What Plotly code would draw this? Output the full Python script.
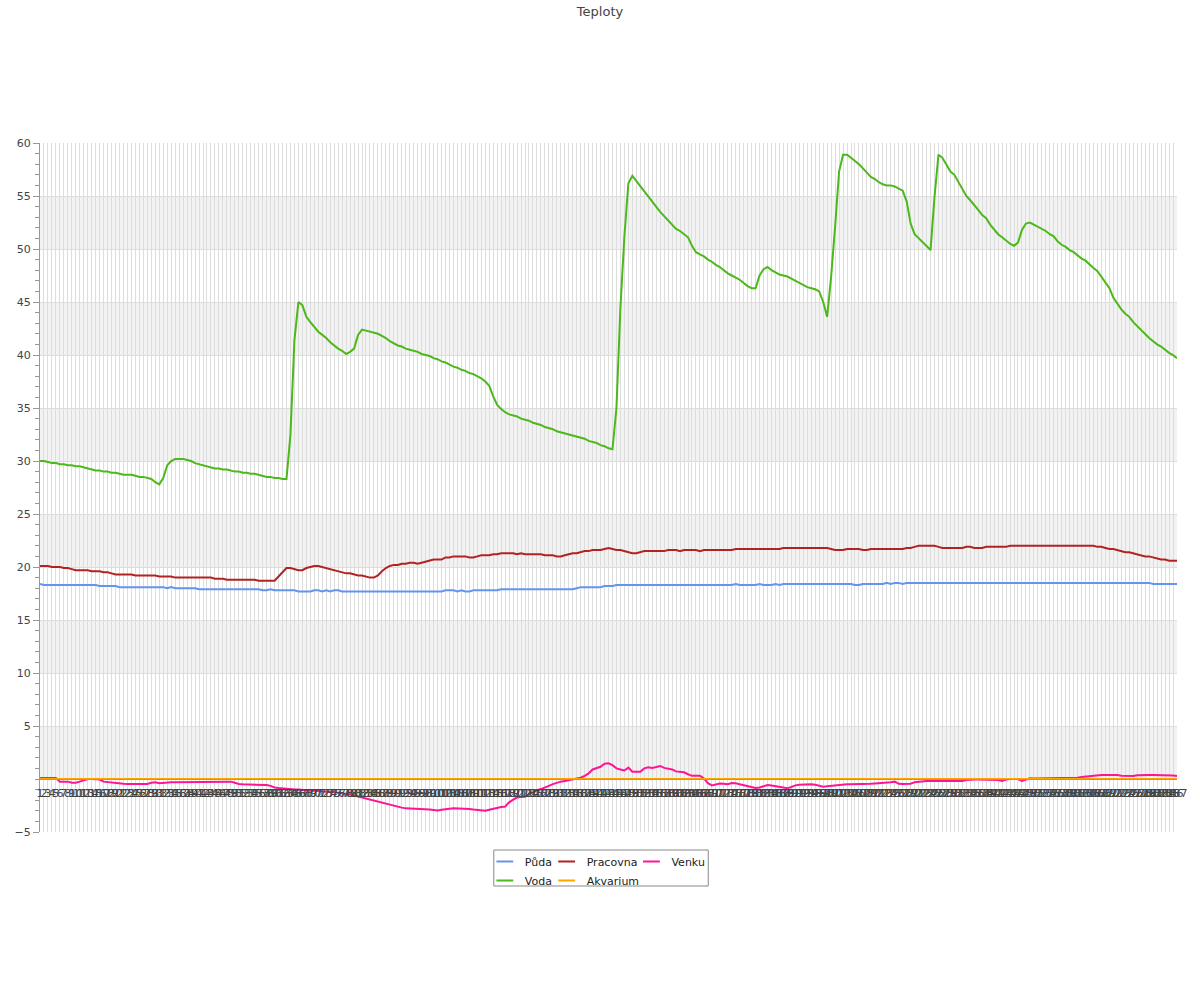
import plotly.graph_objects as go

# ---------------- data ----------------
categories = [str(i) for i in range(1, 288)]

puda = (
    [18.4, 18.3, 18.3, 18.3, 18.3, 18.3, 18.3, 18.3, 18.3, 18.3]
    + [18.3, 18.3, 18.3, 18.3, 18.3, 18.2, 18.2, 18.2, 18.2, 18.2]
    + [18.1, 18.1, 18.1, 18.1, 18.1, 18.1, 18.1, 18.1, 18.1, 18.1]
    + [18.1, 18.1, 18.0, 18.1, 18.0, 18.0, 18.0, 18.0, 18.0, 18.0]
    + [17.9, 17.9, 17.9, 17.9, 17.9, 17.9, 17.9, 17.9, 17.9, 17.9]
    + [17.9, 17.9, 17.9, 17.9, 17.9, 17.9, 17.8, 17.8, 17.9, 17.8]
    + [17.8, 17.8, 17.8, 17.8, 17.8, 17.7, 17.7, 17.7, 17.7, 17.8]
    + [17.8, 17.7, 17.8, 17.7, 17.8, 17.8, 17.7, 17.7, 17.7, 17.7]
    + [17.7, 17.7, 17.7, 17.7, 17.7, 17.7, 17.7, 17.7, 17.7, 17.7]
    + [17.7, 17.7, 17.7, 17.7, 17.7, 17.7, 17.7, 17.7, 17.7, 17.7]
    + [17.7, 17.7, 17.8, 17.8, 17.8, 17.7, 17.8, 17.7, 17.7, 17.8]
    + [17.8, 17.8, 17.8, 17.8, 17.8, 17.8, 17.9, 17.9, 17.9, 17.9]
    + [17.9, 17.9, 17.9, 17.9, 17.9, 17.9, 17.9, 17.9, 17.9, 17.9]
    + [17.9, 17.9, 17.9, 17.9, 17.9, 18.0, 18.1, 18.1, 18.1, 18.1]
    + [18.1, 18.1, 18.2, 18.2, 18.2, 18.3, 18.3, 18.3, 18.3, 18.3]
    + [18.3, 18.3, 18.3, 18.3, 18.3, 18.3, 18.3, 18.3, 18.3, 18.3]
    + [18.3, 18.3, 18.3, 18.3, 18.3, 18.3, 18.3, 18.3, 18.3, 18.3]
    + [18.3, 18.3, 18.3, 18.3, 18.3, 18.4, 18.3, 18.3, 18.3, 18.3]
    + [18.3, 18.4, 18.3, 18.3, 18.3, 18.4, 18.3, 18.4, 18.4, 18.4]
    + [18.4, 18.4, 18.4, 18.4, 18.4, 18.4, 18.4, 18.4, 18.4, 18.4]
    + [18.4, 18.4, 18.4, 18.4, 18.4, 18.3, 18.3, 18.4, 18.4, 18.4]
    + [18.4, 18.4, 18.4, 18.5, 18.4, 18.5, 18.5, 18.4, 18.5, 18.5]
    + [18.5, 18.5, 18.5, 18.5, 18.5, 18.5, 18.5, 18.5, 18.5, 18.5]
    + [18.5, 18.5, 18.5, 18.5, 18.5, 18.5, 18.5, 18.5, 18.5, 18.5]
    + [18.5, 18.5, 18.5, 18.5, 18.5, 18.5, 18.5, 18.5, 18.5, 18.5]
    + [18.5, 18.5, 18.5, 18.5, 18.5, 18.5, 18.5, 18.5, 18.5, 18.5]
    + [18.5, 18.5, 18.5, 18.5, 18.5, 18.5, 18.5, 18.5, 18.5, 18.5]
    + [18.5, 18.5, 18.5, 18.5, 18.5, 18.5, 18.5, 18.5, 18.5, 18.5]
    + [18.4, 18.4, 18.4, 18.4, 18.4, 18.4, 18.4]
)

voda = (
    [30.0, 30.0, 29.9, 29.8, 29.8, 29.7, 29.7, 29.6, 29.6, 29.5]
    + [29.5, 29.4, 29.3, 29.2, 29.1, 29.1, 29.0, 29.0, 28.9, 28.9]
    + [28.8, 28.7, 28.7, 28.7, 28.6, 28.5, 28.5, 28.4, 28.3, 28.0]
    + [27.8, 28.4, 29.6, 30.0, 30.2, 30.2, 30.2, 30.1, 30.0, 29.8]
    + [29.7, 29.6, 29.5, 29.4, 29.3, 29.3, 29.2, 29.2, 29.1, 29.0]
    + [29.0, 28.9, 28.9, 28.8, 28.8, 28.7, 28.6, 28.5, 28.5, 28.4]
    + [28.4, 28.3, 28.3, 32.5, 41.4, 45.0, 44.7, 43.6, 43.1, 42.6]
    + [42.2, 41.9, 41.6, 41.2, 40.9, 40.6, 40.4, 40.1, 40.3, 40.6]
    + [41.9, 42.4, 42.3, 42.2, 42.1, 42.0, 41.8, 41.6, 41.3, 41.1]
    + [40.9, 40.8, 40.6, 40.5, 40.4, 40.3, 40.1, 40.0, 39.9, 39.7]
    + [39.6, 39.4, 39.3, 39.1, 38.9, 38.8, 38.6, 38.5, 38.3, 38.2]
    + [38.0, 37.8, 37.5, 37.1, 36.1, 35.3, 34.9, 34.6, 34.4, 34.3]
    + [34.2, 34.0, 33.9, 33.8, 33.6, 33.5, 33.4, 33.2, 33.1, 33.0]
    + [32.8, 32.7, 32.6, 32.5, 32.4, 32.3, 32.2, 32.1, 31.9, 31.8]
    + [31.7, 31.5, 31.4, 31.2, 31.1, 35.0, 44.5, 51.2, 56.2, 56.9]
    + [56.4, 55.9, 55.4, 54.9, 54.4, 54.0, 53.5, 53.1, 52.7, 52.4]
    + [51.9, 51.7, 51.4, 51.1, 50.3, 49.7, 49.5, 49.3, 49.0, 48.8]
    + [48.5, 48.3, 48.0, 47.7, 47.5, 47.3, 47.1, 46.8, 46.5, 46.3]
    + [46.3, 47.5, 48.1, 48.3, 48.0, 47.8, 47.6, 47.5, 47.4, 47.2]
    + [47.0, 46.8, 46.6, 46.4, 46.3, 46.2, 46.0, 45.0, 43.6, 47.4]
    + [52.1, 57.3, 58.9, 58.9, 58.6, 58.3, 58.0, 57.6, 57.2, 56.8]
    + [56.6, 56.3, 56.1, 56.0, 56.0, 55.9, 55.7, 55.5, 54.5, 52.4]
    + [51.4, 51.0, 50.6, 50.2, 49.9, 54.9, 58.9, 58.6, 58.0, 57.3]
    + [57.0, 56.3, 55.6, 55.0, 54.6, 54.2, 53.7, 53.2, 52.9, 52.3]
    + [51.8, 51.4, 51.1, 50.8, 50.5, 50.3, 50.6, 51.8, 52.4, 52.5]
    + [52.3, 52.1, 51.9, 51.7, 51.4, 51.2, 50.7, 50.4, 50.2, 49.9]
    + [49.7, 49.4, 49.1, 48.9, 48.5, 48.2, 47.9, 47.4, 46.9, 46.3]
    + [45.4, 44.8, 44.3, 43.9, 43.6, 43.1, 42.7, 42.3, 41.9, 41.6]
    + [41.3, 41.0, 40.8, 40.5, 40.2, 40.0, 39.7]
)

pracovna = (
    [20.1, 20.1, 20.1, 20.0, 20.0, 20.0, 19.9, 19.9, 19.8, 19.7]
    + [19.7, 19.7, 19.7, 19.6, 19.6, 19.6, 19.5, 19.5, 19.4, 19.3]
    + [19.3, 19.3, 19.3, 19.3, 19.2, 19.2, 19.2, 19.2, 19.2, 19.2]
    + [19.1, 19.1, 19.1, 19.1, 19.0, 19.0, 19.0, 19.0, 19.0, 19.0]
    + [19.0, 19.0, 19.0, 19.0, 18.9, 18.9, 18.9, 18.8, 18.8, 18.8]
    + [18.8, 18.8, 18.8, 18.8, 18.8, 18.7, 18.7, 18.7, 18.7, 18.7]
    + [19.1, 19.5, 19.9, 19.9, 19.8, 19.7, 19.7, 19.9, 20.0, 20.1]
    + [20.1, 20.0, 19.9, 19.8, 19.7, 19.6, 19.5, 19.4, 19.4, 19.3]
    + [19.2, 19.2, 19.1, 19.0, 19.0, 19.2, 19.6, 19.9, 20.1, 20.2]
    + [20.2, 20.3, 20.3, 20.4, 20.4, 20.3, 20.4, 20.5, 20.6, 20.7]
    + [20.7, 20.7, 20.9, 20.9, 21.0, 21.0, 21.0, 21.0, 20.9, 20.9]
    + [21.0, 21.1, 21.1, 21.1, 21.2, 21.2, 21.3, 21.3, 21.3, 21.3]
    + [21.2, 21.3, 21.2, 21.2, 21.2, 21.2, 21.2, 21.1, 21.1, 21.1]
    + [21.0, 21.0, 21.1, 21.2, 21.3, 21.3, 21.4, 21.5, 21.5, 21.6]
    + [21.6, 21.6, 21.7, 21.8, 21.7, 21.6, 21.6, 21.5, 21.4, 21.3]
    + [21.3, 21.4, 21.5, 21.5, 21.5, 21.5, 21.5, 21.5, 21.6, 21.6]
    + [21.6, 21.5, 21.6, 21.6, 21.6, 21.6, 21.5, 21.6, 21.6, 21.6]
    + [21.6, 21.6, 21.6, 21.6, 21.6, 21.7, 21.7, 21.7, 21.7, 21.7]
    + [21.7, 21.7, 21.7, 21.7, 21.7, 21.7, 21.7, 21.8, 21.8, 21.8]
    + [21.8, 21.8, 21.8, 21.8, 21.8, 21.8, 21.8, 21.8, 21.8, 21.7]
    + [21.6, 21.6, 21.6, 21.7, 21.7, 21.7, 21.7, 21.6, 21.6, 21.7]
    + [21.7, 21.7, 21.7, 21.7, 21.7, 21.7, 21.7, 21.7, 21.8, 21.8]
    + [21.9, 22.0, 22.0, 22.0, 22.0, 22.0, 21.9, 21.8, 21.8, 21.8]
    + [21.8, 21.8, 21.8, 21.9, 21.9, 21.8, 21.8, 21.8, 21.9, 21.9]
    + [21.9, 21.9, 21.9, 21.9, 22.0, 22.0, 22.0, 22.0, 22.0, 22.0]
    + [22.0, 22.0, 22.0, 22.0, 22.0, 22.0, 22.0, 22.0, 22.0, 22.0]
    + [22.0, 22.0, 22.0, 22.0, 22.0, 22.0, 21.9, 21.9, 21.8, 21.7]
    + [21.7, 21.6, 21.5, 21.4, 21.4, 21.3, 21.2, 21.1, 21.0, 21.0]
    + [20.9, 20.8, 20.7, 20.7, 20.6, 20.6, 20.6]
)

akvarium = [0.0] * 287

venku = (
    [0.1, 0.1, 0.15, 0.15, 0.1, -0.25, -0.25, -0.25, -0.35, -0.35]
    + [-0.25, -0.1, 0.0, 0.0, 0.0, -0.05, -0.25, -0.3, -0.3, -0.35]
    + [-0.4, -0.45, -0.47, -0.47, -0.47, -0.47, -0.47, -0.47, -0.35, -0.3]
    + [-0.4, -0.35, -0.3, -0.3, -0.3, -0.3, -0.3, -0.3, -0.3, -0.3]
    + [-0.28, -0.28, -0.27, -0.27, -0.26, -0.26, -0.25, -0.25, -0.25, -0.35]
    + [-0.47, -0.5, -0.5, -0.55, -0.57, -0.57, -0.57, -0.57, -0.65, -0.8]
    + [-0.85, -0.9, -0.94, -0.95, -1.0, -1.0, -1.05, -1.05, -1.1, -1.1]
    + [-1.15, -1.15, -1.2, -1.2, -1.25, -1.3, -1.3, -1.35, -1.45, -1.55]
    + [-1.65, -1.75, -1.85, -1.95, -2.05, -2.15, -2.25, -2.35, -2.45, -2.55]
    + [-2.65, -2.7, -2.77, -2.78, -2.8, -2.82, -2.83, -2.85, -2.88, -2.92]
    + [-2.96, -2.9, -2.83, -2.8, -2.77, -2.77, -2.77, -2.77, -2.82, -2.88]
    + [-2.92, -2.97, -3.0, -2.9, -2.8, -2.72, -2.65, -2.6, -2.2, -1.95]
    + [-1.75, -1.7, -1.67, -1.45, -1.25, -1.05, -0.95, -0.82, -0.65, -0.48]
    + [-0.35, -0.25, -0.18, -0.1, -0.05, 0.05, 0.12, 0.3, 0.53, 0.9]
    + [1.0, 1.15, 1.45, 1.48, 1.3, 1.0, 0.9, 0.8, 1.07, 0.69]
    + [0.69, 0.69, 1.0, 1.1, 1.05, 1.15, 1.23, 1.05, 0.95, 0.9]
    + [0.72, 0.68, 0.63, 0.45, 0.3, 0.3, 0.31, 0.05, -0.4, -0.6]
    + [-0.5, -0.42, -0.45, -0.5, -0.38, -0.4, -0.5, -0.57, -0.65, -0.75]
    + [-0.85, -0.8, -0.65, -0.57, -0.62, -0.7, -0.75, -0.82, -0.88, -0.75]
    + [-0.6, -0.55, -0.52, -0.5, -0.5, -0.55, -0.65, -0.72, -0.68, -0.63]
    + [-0.6, -0.55, -0.52, -0.5, -0.5, -0.5, -0.5, -0.5, -0.48, -0.45]
    + [-0.42, -0.4, -0.37, -0.33, -0.3, -0.25, -0.45, -0.47, -0.46, -0.45]
    + [-0.3, -0.25, -0.22, -0.2, -0.19, -0.19, -0.19, -0.19, -0.19, -0.19]
    + [-0.19, -0.19, -0.19, -0.1, -0.05, -0.05, -0.05, -0.05, -0.05, -0.05]
    + [-0.05, -0.1, -0.19, -0.05, 0.0, 0.0, 0.0, -0.19, -0.05, 0.07]
    + [0.05, 0.05, 0.05, 0.05, 0.1, 0.05, 0.07, 0.07, 0.07, 0.07]
    + [0.07, 0.12, 0.2, 0.25, 0.3, 0.35, 0.38, 0.38, 0.38, 0.38]
    + [0.38, 0.38, 0.3, 0.28, 0.28, 0.28, 0.35, 0.38, 0.38, 0.38]
    + [0.38, 0.38, 0.38, 0.38, 0.38, 0.33, 0.28]
)

y_tick_values = [-5, 5, 10, 15, 20, 25, 30, 35, 40, 45, 50, 55, 60]
band_starts = [0, 10, 20, 30, 40, 50]

series_names = ["Půda", "Voda", "Pracovna", "Akvarium", "Venku"]
series_colors = {"Půda": "#6495ED", "Voda": "#4CB81A", "Pracovna": "#B22222",
                 "Akvarium": "#FFA500", "Venku": "#FF1493"}
series_legend = {"Půda": "legend", "Voda": "legend", "Pracovna": "legend2",
                 "Akvarium": "legend2", "Venku": "legend3"}

# ---------------- figure ----------------
FONT = "DejaVu Sans"
fig = go.Figure()

def line_trace(name, values, **kw):
    return go.Scatter(x=categories, y=values, name=name, mode="lines",
                      line=dict(color=series_colors[name], width=2),
                      showlegend=False, hoverinfo="x+y+name", **kw)

fig.add_trace(line_trace("Půda", puda))
fig.add_trace(line_trace("Voda", voda))
fig.add_trace(line_trace("Pracovna", pracovna))
fig.add_trace(line_trace("Venku", venku))
fig.add_trace(line_trace("Akvarium", akvarium, xaxis="x2", yaxis="y"))

# legend entries (short line symbols, like the original)
for name in series_names:
    fig.add_trace(go.Scatter(
        x=[None], y=[None], name=name, mode="markers",
        marker=dict(symbol="line-ew", size=12, color=series_colors[name],
                    line=dict(color=series_colors[name], width=2)),
        legend=series_legend[name], showlegend=True, hoverinfo="skip"))

L, T = 40, 143
W, H = 1140, 689
def px(x):
    return (x - L) / W
def py(y):
    return (T + H - y) / H

shapes = [
    dict(type="rect", xref="paper", yref="y", x0=0, x1=1, y0=b, y1=b + 5,
         fillcolor="#F2F2F2", line=dict(width=0), layer="below")
    for b in band_starts
]
shapes.append(dict(type="rect", xref="paper", yref="paper",
                   x0=px(495), x1=px(710), y0=py(886), y1=py(850),
                   line=dict(color="#888888", width=1), fillcolor="rgba(0,0,0,0)"))

leg_common = dict(orientation="v", yanchor="top", xanchor="left",
                  bgcolor="rgba(0,0,0,0)", borderwidth=0,
                  font=dict(family=FONT, size=11, color="#222"),
                  tracegroupgap=0)

fig.update_layout(
    width=1200, height=1000,
    margin=dict(l=L, r=1200 - L - W, t=T, b=1000 - T - H, pad=0),
    paper_bgcolor="white", plot_bgcolor="white",
    font=dict(family=FONT, size=11, color="#444"),
    title=dict(text="Teploty", x=0.5, xref="container", xanchor="center",
               y=1 - 11 / 1000, yref="container", yanchor="middle",
               font=dict(family=FONT, size=13, color="#444")),
    shapes=shapes,
    showlegend=True,
    legend=dict(x=px(486), y=py(847), **leg_common),
    legend2=dict(x=px(548), y=py(847), **leg_common),
    legend3=dict(x=px(633), y=py(847), **leg_common),
    xaxis=dict(type="category", range=[0, len(categories) - 1],
               showgrid=True, gridcolor="#DDDDDD", gridwidth=1,
               tickmode="linear", tick0=0, dtick=1,
               showticklabels=False, ticks="", showline=False, zeroline=False),
    xaxis2=dict(type="category", overlaying="x", anchor="free",
                position=5 / 65, side="bottom",
                range=[0, len(categories) - 1],
                showgrid=False, showline=True, linecolor="#999999", linewidth=1,
                tickmode="linear", tick0=0, dtick=1, tickangle=0,
                ticks="", ticklabelstandoff=4,
                tickfont=dict(family=FONT, size=11, color="#444"),
                zeroline=False),
    yaxis=dict(range=[-5, 60], tickmode="array", tickvals=y_tick_values,
               showgrid=True, gridcolor="#DDDDDD", gridwidth=1,
               zeroline=False, showline=True, linecolor="#999999",
               ticks="outside", ticklen=6, tickcolor="#999999",
               tickfont=dict(family=FONT, size=11, color="#444"),
               minor=dict(tickmode="linear", tick0=0, dtick=1, ticks="outside",
                          ticklen=4, tickcolor="#999999", showgrid=False)),
)

fig.write_html("out.html", config={"displayModeBar": False},
               post_script="document.body.style.margin='0';")
